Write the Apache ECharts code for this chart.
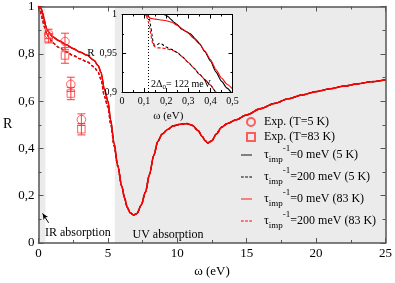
<!DOCTYPE html>
<html><head><meta charset="utf-8">
<script src="https://cdn.jsdelivr.net/npm/echarts@6/dist/echarts.min.js"></script>
<style>html,body{margin:0;padding:0;background:#fff}#c{width:395px;height:283px}</style>
</head><body><div id="c"></div>
<script>
// ---------- data ----------
const mainX = [0,0.1,0.2,0.3,0.4,0.5,0.6,0.8,1.0,1.5,2.0,2.5,3.0,3.5,4.0,4.3,4.5,4.75,5.0,5.2,5.45,5.7,6.0,6.2,6.4,6.6,6.85,7.1,7.4,7.7,8.0,8.3,8.6,8.9,9.3,9.7,10.2,10.7,11.1,11.5,11.8,12.0,12.2,12.5,12.8,13.2,13.6,14.2,15,16,17,18,19,20,21,22,23,24,25];
const mainR0 = [1.0,0.998,0.99,0.972,0.948,0.922,0.903,0.888,0.872,0.855,0.838,0.822,0.807,0.794,0.772,0.75,0.722,0.65,0.6,0.52,0.42,0.33,0.24,0.19,0.15,0.128,0.118,0.125,0.16,0.215,0.29,0.37,0.43,0.46,0.48,0.495,0.502,0.505,0.497,0.475,0.45,0.433,0.423,0.433,0.46,0.49,0.505,0.52,0.542,0.568,0.59,0.61,0.626,0.64,0.652,0.663,0.673,0.682,0.69];
const mainR200 = [1.0,0.99,0.968,0.943,0.918,0.898,0.883,0.866,0.847,0.826,0.808,0.793,0.779,0.766,0.745,0.722,0.692,0.62,0.575,0.505,0.41,0.327,0.24,0.19,0.15,0.128,0.118,0.125,0.16,0.215,0.29,0.37,0.43,0.46,0.48,0.495,0.502,0.505,0.497,0.475,0.45,0.433,0.423,0.433,0.46,0.49,0.505,0.52,0.542,0.568,0.59,0.61,0.626,0.64,0.652,0.663,0.673,0.682,0.69];

const expX = [0.73, 1.91, 2.33, 3.09];
const exp5K = [0.884, 0.852, 0.671, 0.522];
const err5K = [0.02, 0.035, 0.03, 0.024];
const exp83K = [0.866, 0.793, 0.632, 0.481];
const err83K = [0.02, 0.033, 0.026, 0.024];

const in5K0X = [0,0.1,0.19,0.2,0.21,0.22,0.235,0.25,0.27,0.29,0.31,0.33,0.35,0.375,0.4,0.425,0.45,0.475,0.5];
const in5K0R = [1,1,1,0.999,0.997,0.994,0.99,0.987,0.981,0.978,0.975,0.969,0.963,0.952,0.94,0.926,0.914,0.905,0.897];
const in83K0X = [0,0.1,0.11,0.12,0.13,0.15,0.175,0.2,0.225,0.25,0.275,0.3,0.325,0.35,0.375,0.4,0.425,0.45,0.475,0.5];
const in83K0R = [1,1,0.999,0.997,0.995,0.994,0.993,0.992,0.99,0.986,0.981,0.976,0.969,0.962,0.953,0.942,0.929,0.918,0.91,0.904];
const in5K200X = [0,0.1,0.115,0.12,0.125,0.13,0.135,0.14,0.145,0.15,0.16,0.17,0.18,0.19,0.2,0.225,0.25,0.275,0.3,0.325,0.35,0.375,0.4,0.425,0.45];
const in5K200R = [1,1,1,0.998,0.993,0.985,0.975,0.966,0.961,0.96,0.961,0.963,0.962,0.96,0.958,0.955,0.951,0.945,0.938,0.931,0.923,0.916,0.909,0.9,0.89];
const in83K200X = [0,0.1,0.105,0.11,0.115,0.12,0.125,0.13,0.135,0.14,0.15,0.16,0.175,0.2,0.225,0.25,0.275,0.3,0.325,0.35,0.375,0.4,0.425,0.45];
const in83K200R = [1,1,0.999,0.998,0.995,0.99,0.983,0.975,0.967,0.961,0.958,0.957,0.957,0.956,0.954,0.951,0.945,0.938,0.931,0.923,0.916,0.909,0.9,0.89];

const gapX = 0.122;
const mainShade = [[0, 0.5], [5.5, 25]];
const insetShade = [[0.2, 0.5]];

const names = ['Exp. (T=5 K)', 'Exp. (T=83 K)',
  'τimp-1=0 meV (5 K)', 'τimp-1=200 meV (5 K)', 'τimp-1=0 meV (83 K)', 'τimp-1=200 meV (83 K)'];
const tauRest = ['=0 meV (5 K)', '=200 meV (5 K)', '=0 meV (83 K)', '=200 meV (83 K)'];

// ---------- chart ----------
const FONT = "'Liberation Serif', 'DejaVu Serif', serif";
const RED = '#ff0000';
const MRED = '#ff3a3a';
const AX = '#555';
const SOLID_ICON = 'path://M0,0h12v1h-12z';
const DASH_ICON = 'path://M0,0h3v1h-3zM4.5,0h3v1h-3zM9,0h3v1h-3z';
const pair = (xs, ys) => xs.map((x, i) => [x, ys[i]]);
const comma = v => String(Math.round(v * 1000) / 1000).replace('.', ',');

function errRender(params, api) {
  const x = api.value(0), lo = api.value(1), hi = api.value(2);
  const a = api.coord([x, lo]), b = api.coord([x, hi]);
  const w = 4;
  const st = {stroke: MRED, lineWidth: 1, fill: null};
  return {type: 'group', children: [
    {type: 'line', shape: {x1: a[0], y1: a[1], x2: b[0], y2: b[1]}, style: st},
    {type: 'line', shape: {x1: a[0]-w, y1: a[1], x2: a[0]+w, y2: a[1]}, style: st},
    {type: 'line', shape: {x1: b[0]-w, y1: b[1], x2: b[0]+w, y2: b[1]}, style: st}
  ]};
}

const mainAxisCommon = {
  type: 'value', gridIndex: 0, splitLine: {show: false}, z: 3,
  axisLine: {onZero: false, lineStyle: {color: AX, width: 1.5}},
  axisTick: {inside: true, length: 5, lineStyle: {color: AX, width: 1}},
  minorTick: {show: true, splitNumber: 2, length: 3, lineStyle: {color: AX, width: 1}}
};
const insetAxisCommon = {
  type: 'value', gridIndex: 1, splitLine: {show: false}, z: 8,
  axisLine: {onZero: false, lineStyle: {color: '#000', width: 1}},
  axisTick: {inside: true, length: 4, lineStyle: {color: '#000', width: 1}},
  minorTick: {show: true, splitNumber: 2, length: 2, lineStyle: {color: '#000', width: 1}}
};

const lineCommon = {type: 'line', showSymbol: false, symbol: 'none', smooth: 0.3, smoothMonotone: 'x', silent: true};

const option = {
  animation: false,
  backgroundColor: '#fff',
  textStyle: {fontFamily: FONT},
  grid: [
    {left: 33, top: 5, width: 353.5, height: 248.7, show: false},
    {left: 122, top: 14.5, width: 110.5, height: 77.5, show: true, backgroundColor: '#fff', borderWidth: 0, z: 5}
  ],
  xAxis: [
    Object.assign({}, mainAxisCommon, {position: 'bottom', min: 0, max: 25, interval: 5,
      axisLabel: {fontFamily: FONT, fontSize: 13, color: '#000', margin: 4, formatter: comma},
      name: 'ω (eV)', nameLocation: 'middle', nameGap: 22,
      nameTextStyle: {fontFamily: FONT, fontSize: 13, color: '#000'}}),
    Object.assign({}, mainAxisCommon, {position: 'top', min: 0, max: 25, interval: 5, axisLabel: {show: false}}),
    Object.assign({}, insetAxisCommon, {position: 'bottom', min: 0, max: 0.5, interval: 0.1,
      axisLabel: {fontFamily: FONT, fontSize: 10, color: '#000', margin: 4, formatter: comma},
      name: 'ω (eV)', nameLocation: 'middle', nameGap: 19,
      nameTextStyle: {fontFamily: FONT, fontSize: 11, color: '#000', padding: [0, 18, 0, 0]}}),
    Object.assign({}, insetAxisCommon, {position: 'top', min: 0, max: 0.5, interval: 0.1, axisLabel: {show: false}})
  ],
  yAxis: [
    Object.assign({}, mainAxisCommon, {position: 'left', min: 0, max: 1, interval: 0.2,
      axisLabel: {fontFamily: FONT, fontSize: 13, color: '#000', margin: 4, formatter: comma},
      name: 'R', nameLocation: 'middle', nameRotate: 0, nameGap: 24,
      nameTextStyle: {fontFamily: FONT, fontSize: 14, color: '#000'}}),
    Object.assign({}, mainAxisCommon, {position: 'right', min: 0, max: 1, interval: 0.2, axisLabel: {show: false}}),
    Object.assign({}, insetAxisCommon, {position: 'left', min: 0.9, max: 1, interval: 0.05,
      axisLabel: {fontFamily: FONT, fontSize: 10, color: '#000', margin: 5, formatter: comma},
      name: 'R', nameLocation: 'middle', nameRotate: 0, nameGap: 22,
      nameTextStyle: {fontFamily: FONT, fontSize: 11, color: '#000'}}),
    Object.assign({}, insetAxisCommon, {position: 'right', min: 0.9, max: 1, interval: 0.05, axisLabel: {show: false}})
  ],
  legend: [
    {left: 246, top: 114.5, padding: 0, orient: 'vertical', itemWidth: 8, itemHeight: 8, itemGap: 0, selectedMode: false,
      data: [names[0], names[1]],
      textStyle: {fontFamily: FONT, fontSize: 12, color: '#000', lineHeight: 15, padding: [0, 0, 0, 4]}},
    {left: 241, top: 144, padding: 0, orient: 'vertical', itemWidth: 11, itemHeight: 1.3, itemGap: 0, selectedMode: false,
      data: [
        {name: names[2], icon: SOLID_ICON},
        {name: names[3], icon: DASH_ICON},
        {name: names[4], icon: SOLID_ICON},
        {name: names[5], icon: DASH_ICON}
      ],
      formatter: function (n) {
        const i = names.indexOf(n) - 2;
        return '{t|τ}{sub|imp}{sup|-1}{t|' + tauRest[i] + '}';
      },
      textStyle: {fontFamily: FONT, fontSize: 12, color: '#000', padding: [0, 0, 0, 7],
        rich: {
          t: {fontFamily: FONT, fontSize: 12, color: '#000', lineHeight: 23.5},
          sub: {fontFamily: FONT, fontSize: 9, color: '#000', lineHeight: 23.5, padding: [10, 0, 0, 0]},
          sup: {fontFamily: FONT, fontSize: 9, color: '#000', lineHeight: 23.5, padding: [0, 0, 13, 0]}
        }}}
  ],
  graphic: [
    {type: 'text', left: 45, top: 227, z: 20, style: {text: 'IR absorption', font: '12px ' + FONT, fill: '#000'}},
    {type: 'text', left: 132.5, top: 228.5, z: 20, style: {text: 'UV absorption', font: '12px ' + FONT, fill: '#000'}},
    {type: 'text', left: 151, top: 77.5, z: 20, style: {
      text: '{a|2Δ}{s|0}{a|= 122 meV}',
      rich: {
        a: {fontFamily: FONT, fontSize: 10, fill: '#000', lineHeight: 12},
        s: {fontFamily: FONT, fontSize: 7, fill: '#000', lineHeight: 12, padding: [6, 0, 0, 0]}
      }}}
  ],
  series: [
    {type: 'line', xAxisIndex: 0, yAxisIndex: 0, data: [], z: 1, silent: true,
      markArea: {silent: true, itemStyle: {color: '#ebebeb'},
        data: mainShade.map(s => [{xAxis: s[0]}, {xAxis: s[1]}])},
      markLine: {silent: true, symbolSize: 5, label: {show: false},
        lineStyle: {color: '#000', width: 1, type: 'solid'},
        data: [[{coord: [0.73, 0.085], symbol: 'none'}, {coord: [0.3, 0.125], symbol: 'arrow', symbolSize: [4, 6]}]]}},
    {type: 'custom', xAxisIndex: 0, yAxisIndex: 0, z: 4, silent: true, renderItem: errRender,
      encode: {x: 0, y: [1, 2]}, data: expX.map((x, i) => [x, exp5K[i] - err5K[i], exp5K[i] + err5K[i]])},
    {type: 'custom', xAxisIndex: 0, yAxisIndex: 0, z: 4, silent: true, renderItem: errRender,
      encode: {x: 0, y: [1, 2]}, data: expX.map((x, i) => [x, exp83K[i] - err83K[i], exp83K[i] + err83K[i]])},
    {name: names[0], type: 'scatter', xAxisIndex: 0, yAxisIndex: 0, z: 4, symbol: 'circle', symbolSize: 8.5,
      itemStyle: {color: 'rgba(0,0,0,0)', borderColor: MRED, borderWidth: 1}, data: pair(expX, exp5K)},
    {name: names[1], type: 'scatter', xAxisIndex: 0, yAxisIndex: 0, z: 4, symbol: 'rect', symbolSize: 7.5,
      itemStyle: {color: 'rgba(0,0,0,0)', borderColor: MRED, borderWidth: 1}, data: pair(expX, exp83K)},
    Object.assign({}, lineCommon, {name: names[2], xAxisIndex: 0, yAxisIndex: 0, z: 3,
      lineStyle: {color: '#000', width: 1.2, type: 'solid'}, itemStyle: {color: '#000'}, data: pair(mainX, mainR0)}),
    Object.assign({}, lineCommon, {name: names[3], xAxisIndex: 0, yAxisIndex: 0, z: 3,
      lineStyle: {color: '#000', width: 1.2, type: [3, 2]}, itemStyle: {color: '#000'}, data: pair(mainX, mainR200)}),
    Object.assign({}, lineCommon, {name: names[4], xAxisIndex: 0, yAxisIndex: 0, z: 3,
      lineStyle: {color: RED, width: 1.6, type: 'solid'}, itemStyle: {color: RED}, data: pair(mainX, mainR0)}),
    Object.assign({}, lineCommon, {name: names[5], xAxisIndex: 0, yAxisIndex: 0, z: 3,
      lineStyle: {color: RED, width: 1.4, type: [3, 2]}, itemStyle: {color: RED}, data: pair(mainX, mainR200)}),
    {type: 'line', xAxisIndex: 2, yAxisIndex: 2, data: [], z: 6, silent: true,
      markArea: {silent: true, itemStyle: {color: '#ebebeb'},
        data: insetShade.map(s => [{xAxis: s[0]}, {xAxis: s[1]}])},
      markLine: {silent: true, symbol: 'none', label: {show: false},
        lineStyle: {color: '#000', width: 1, type: [1, 2]}, data: [{xAxis: gapX}]}},
    Object.assign({}, lineCommon, {name: names[2], xAxisIndex: 2, yAxisIndex: 2, z: 7, smooth: 0.2,
      lineStyle: {color: '#000', width: 1.1, type: 'solid'}, itemStyle: {color: '#000'}, data: pair(in5K0X, in5K0R)}),
    Object.assign({}, lineCommon, {name: names[3], xAxisIndex: 2, yAxisIndex: 2, z: 7, smooth: 0.2,
      lineStyle: {color: '#000', width: 1.1, type: [3, 2]}, itemStyle: {color: '#000'}, data: pair(in5K200X, in5K200R)}),
    Object.assign({}, lineCommon, {name: names[4], xAxisIndex: 2, yAxisIndex: 2, z: 7, smooth: 0.2,
      lineStyle: {color: RED, width: 1.1, type: 'solid'}, itemStyle: {color: RED}, data: pair(in83K0X, in83K0R)}),
    Object.assign({}, lineCommon, {name: names[5], xAxisIndex: 2, yAxisIndex: 2, z: 7, smooth: 0.2,
      lineStyle: {color: RED, width: 1.1, type: [3, 2]}, itemStyle: {color: RED}, data: pair(in83K200X, in83K200R)})
  ]
};

const chart = echarts.init(document.getElementById('c'), null, {renderer: 'canvas'});
chart.setOption(option);
</script>
</body></html>
